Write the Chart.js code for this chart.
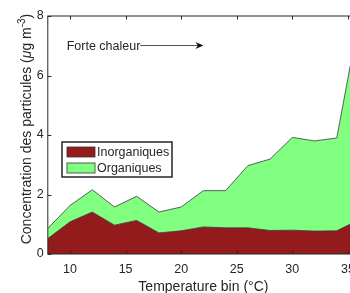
<!DOCTYPE html>
<html>
<head>
<meta charset="utf-8">
<script src="https://cdn.jsdelivr.net/npm/chart.js@4.4.1/dist/chart.umd.min.js"></script>
<style>
  html, body { margin: 0; padding: 0; background: #fff; overflow: hidden; }
  #wrap { width: 380px; height: 293px; }
</style>
</head>
<body>
<div id="wrap"><canvas id="chart" width="380" height="293"></canvas></div>
<script>
// temperature bins (°C)
const temps = [8, 10, 12, 14, 16, 18, 20, 22, 24, 26, 28, 30, 32, 34, 36];
// stacked series (µg m-3)
const inorganiques = [0.52, 1.08, 1.41, 0.97, 1.13, 0.71, 0.78, 0.91, 0.88, 0.88, 0.79, 0.80, 0.77, 0.78, 1.15];
const organiques = [0.34, 0.55, 0.75, 0.61, 0.81, 0.70, 0.80, 1.22, 1.25, 2.09, 2.40, 3.12, 3.03, 3.12, 6.75];
const xTicks = [10, 15, 20, 25, 30, 35];
const yTicks = [0, 2, 4, 6, 8];
const seriesNames = ['Inorganiques', 'Organiques'];
const seriesColors = ['#931b1b', '#80ff80'];

const FONT = 'Liberation Sans, Arial, sans-serif';
const INK = '#262626';

const toPoints = (vals) => temps.map((t, i) => ({ x: t, y: vals[i] }));

// box, inward ticks, titles, legend, annotation
const matlabLook = {
  id: 'matlabLook',
  afterDraw(chart) {
    const { ctx, chartArea: { left, right, top, bottom }, scales: { x, y } } = chart;
    ctx.save();
    ctx.strokeStyle = INK;
    ctx.lineWidth = 1;
    ctx.strokeRect(left, top, right - left, bottom - top);

    const tl = 3.5;
    ctx.beginPath();
    xTicks.forEach(v => {
      const px = Math.round(x.getPixelForValue(v)) + 0.5;
      ctx.moveTo(px, bottom); ctx.lineTo(px, bottom - tl);
      ctx.moveTo(px, top); ctx.lineTo(px, top + tl);
    });
    yTicks.forEach(v => {
      const py = Math.round(y.getPixelForValue(v)) + 0.5;
      ctx.moveTo(left, py); ctx.lineTo(left + tl, py);
      ctx.moveTo(right, py); ctx.lineTo(right - tl, py);
    });
    ctx.stroke();

    // x title
    ctx.fillStyle = INK;
    ctx.font = '14px ' + FONT;
    ctx.textAlign = 'center';
    ctx.textBaseline = 'alphabetic';
    ctx.fillText('Temperature bin (°C)', (left + right) / 2, 290.5);

    // y title with italic mu and superscript
    const parts = [
      { t: 'Concentration des particules (', f: '14px ' + FONT, dy: 0 },
      { t: 'μ', f: 'italic 14px ' + FONT, dy: 0 },
      { t: 'g m', f: '14px ' + FONT, dy: 0 },
      { t: '-3', f: '10px ' + FONT, dy: -6 },
      { t: ')', f: '14px ' + FONT, dy: 0 }
    ];
    let total = 0;
    parts.forEach(p => { ctx.font = p.f; p.w = ctx.measureText(p.t).width; total += p.w; });
    ctx.translate(30.5, 129);
    ctx.rotate(-Math.PI / 2);
    ctx.textAlign = 'left';
    let cx = -total / 2;
    parts.forEach(p => { ctx.font = p.f; ctx.fillText(p.t, cx, p.dy); cx += p.w; });
    ctx.setTransform(1, 0, 0, 1, 0, 0);

    // annotation: Forte chaleur ---->
    ctx.font = '12.5px ' + FONT;
    ctx.textBaseline = 'middle';
    ctx.textAlign = 'left';
    const ax = x.getPixelForValue(9.7), ay = Math.round(y.getPixelForValue(7.03)) + 0.5;
    ctx.fillText('Forte chaleur', ax, ay + 1);
    const x0 = ax + ctx.measureText('Forte chaleur').width;
    const x1 = x.getPixelForValue(22);
    ctx.lineWidth = 0.8;
    ctx.beginPath();
    ctx.moveTo(x0, ay); ctx.lineTo(x1 - 5, ay);
    ctx.stroke();
    ctx.fillStyle = '#111';
    ctx.beginPath();
    ctx.moveTo(x1, ay);
    ctx.lineTo(x1 - 8, ay - 3.5);
    ctx.lineTo(x1 - 5.5, ay);
    ctx.lineTo(x1 - 8, ay + 3.5);
    ctx.closePath();
    ctx.fill();

    // legend
    const lx = 62, ly = 142, lw = 110, lh = 35;
    ctx.fillStyle = '#fff';
    ctx.fillRect(lx, ly, lw, lh);
    ctx.strokeStyle = INK;
    ctx.lineWidth = 1.5;
    ctx.strokeRect(lx, ly, lw, lh);
    ctx.font = '12.5px ' + FONT;
    chart.data.datasets.forEach((ds, i) => {
      const sy = 147 + i * 16;
      ctx.fillStyle = ds.backgroundColor;
      ctx.fillRect(67, sy, 28, 10);
      ctx.strokeStyle = '#333';
      ctx.lineWidth = 0.8;
      ctx.strokeRect(67, sy, 28, 10);
      ctx.fillStyle = INK;
      ctx.fillText(ds.label, 97, sy + 5.5);
    });
    ctx.restore();
  }
};

new Chart(document.getElementById('chart'), {
  type: 'line',
  data: {
    datasets: [
      {
        label: seriesNames[0],
        data: toPoints(inorganiques),
        backgroundColor: seriesColors[0],
        borderColor: '#3a3a3a',
        borderWidth: 0.8,
        fill: 'origin',
        pointRadius: 0,
        tension: 0
      },
      {
        label: seriesNames[1],
        data: toPoints(organiques),
        backgroundColor: seriesColors[1],
        borderColor: '#3a3a3a',
        borderWidth: 0.8,
        fill: '-1',
        pointRadius: 0,
        tension: 0
      }
    ]
  },
  options: {
    responsive: false,
    animation: false,
    devicePixelRatio: 1,
    layout: { padding: { left: 0, right: 21, top: 16, bottom: 0 } },
    plugins: {
      legend: { display: false },
      tooltip: { enabled: false }
    },
    scales: {
      x: {
        type: 'linear',
        min: 8,
        max: 36,
        grid: { display: false, drawTicks: false },
        border: { display: false },
        afterBuildTicks(scale) { scale.ticks = xTicks.map(v => ({ value: v })); },
        afterFit(scale) { scale.height = 39; },
        ticks: { color: INK, font: { family: FONT, size: 12.5 }, padding: 8, maxRotation: 0 }
      },
      y: {
        stacked: true,
        min: 0,
        max: 8,
        grid: { display: false, drawTicks: false },
        border: { display: false },
        afterBuildTicks(scale) { scale.ticks = yTicks.map(v => ({ value: v })); },
        afterFit(scale) { scale.width = 47.8; },
        ticks: { color: INK, font: { family: FONT, size: 12.5 }, padding: 4 }
      }
    }
  },
  plugins: [matlabLook]
});
</script>
</body>
</html>
